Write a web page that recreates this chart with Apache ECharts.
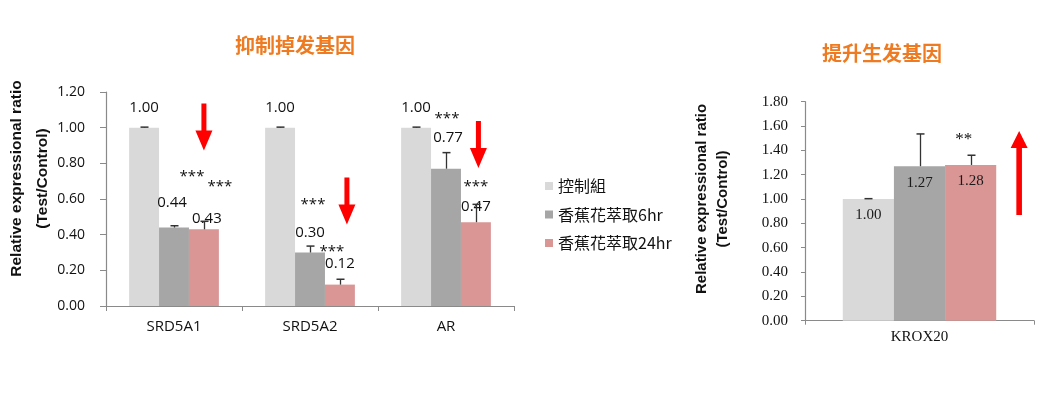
<!DOCTYPE html>
<html><head><meta charset="utf-8">
<script src="https://cdn.jsdelivr.net/npm/echarts@6.0.0/dist/echarts.min.js"></script>
<style>html,body{margin:0;padding:0;background:#fff}#c{width:1041px;height:401px}</style>
</head><body><div id="c"></div>
<script>
// ---------- data ----------
const seriesNames = ['控制組', '香蕉花萃取6hr', '香蕉花萃取24hr'];
const leftTitle = '抑制掉发基因';
const rightTitle = '提升生发基因';
const yAxisTitle = ['Relative expressional ratio', '(Test/Control)'];

const leftCategories = ['SRD5A1', 'SRD5A2', 'AR'];
const leftControl = [1.00, 1.00, 1.00];
const left6hr = [0.44, 0.30, 0.77];
const left24hr = [0.43, 0.12, 0.47];
const leftControlErr = [0.003, 0.003, 0.003];
const left6hrErr = [0.01, 0.036, 0.09];
const left24hrErr = [0.045, 0.03, 0.10];
const left6hrSig = ['***', '***', '***'];
const left24hrSig = ['***', '***', '***'];

const rightCategories = ['KROX20'];
const rightControl = [1.00];
const right6hr = [1.27];
const right24hr = [1.28];
const rightControlErr = [0.003];
const right6hrErr = [0.265];
const right24hrErr = [0.08];
const right24hrSig = ['**'];

// ---------- layout / style tweaks (not data) ----------
const colors = ['#D9D9D9', '#A6A6A6', '#D99694'];
const leftGap = 0.34, rightGap = 0.33;
const leftLabelLift = [[12, 12, 12], [17, 12, 23], [3.5, 13, 7.5]];
const leftLabelShiftX = [[0, 0, 0], [-2, 0, 2], [3, 0, 0]];
const left6hrSigAt = [[0.723, 18], [0.566, 3], [1.049, 1]];
const left24hrSigAt = [[0.667, 16], [0.303, -8], [0.667, 0]];
const leftArrowAt = [[1.004, 0], [0.589, 7], [0.906, 2.5]];
const rightArrowAt = [1.214, 48.5];
const rightSigAt = [1.49, -7];
const downArrow = 'path://M6,0L11,0L11,27L17,27L8.5,47L0,27L6,27Z';
const upArrow = 'path://M8.5,0L17,17L11.3,17L11.3,84L5.7,84L5.7,17L0,17Z';

const sansFont = 'Open Sans';
const serifFont = 'Liberation Serif';
const textColor = '#111';
const axisColor = '#8a8a8a';

function leftBar(idx, values) {
  return {
    name: seriesNames[idx], type: 'bar', xAxisIndex: 0, yAxisIndex: 0,
    barGap: '0%', barCategoryGap: (leftGap * 100) + '%',
    itemStyle: { color: colors[idx] },
    data: values.map((v, i) => ({
      value: v,
      label: { distance: leftLabelLift[idx][i], offset: [leftLabelShiftX[idx][i], 0] }
    })),
    label: {
      show: true, position: 'top', fontFamily: sansFont, fontSize: 15, color: textColor,
      formatter: p => p.value.toFixed(2)
    }
  };
}
function rightBar(idx, values) {
  return {
    name: seriesNames[idx], type: 'bar', xAxisIndex: 1, yAxisIndex: 1,
    barGap: '0%', barCategoryGap: (rightGap * 100) + '%',
    itemStyle: { color: colors[idx] },
    data: values,
    label: {
      show: true, position: 'insideTop', distance: 9, fontFamily: serifFont, fontSize: 15, color: '#1a1a1a',
      formatter: p => p.value.toFixed(2)
    }
  };
}
function sigPoints(sig, at, font, size) {
  return sig.map((s, i) => ({
    coord: [i, at[i][0]], symbol: 'circle', symbolSize: 0,
    label: { show: true, position: 'inside', formatter: s, offset: [at[i][1], 0],
      fontFamily: font, fontSize: size, color: textColor }
  }));
}
function errSeries(axisIdx, gapFrac, valueLists, errLists) {
  const data = [];
  valueLists.forEach((vals, s) => vals.forEach((v, i) => data.push([i, v, errLists[s][i], s])));
  return {
    type: 'custom', name: 'err' + axisIdx, xAxisIndex: axisIdx, yAxisIndex: axisIdx, z: 5, silent: true,
    data, encode: { x: 0, y: 1 },
    renderItem(params, api) {
      const band = api.size([1, 0])[0];
      const bw = band * (1 - gapFrac) / 3;
      const base = api.coord([api.value(0), api.value(1)]);
      const top = api.coord([api.value(0), api.value(1) + api.value(2)]);
      const x = Math.round(base[0] + (api.value(3) - 1) * bw) + 0.5;
      return { type: 'group', children: [
        { type: 'line', shape: { x1: x, y1: base[1], x2: x, y2: top[1] }, style: { stroke: '#333', lineWidth: 1.3 } },
        { type: 'line', shape: { x1: x - 4, y1: top[1], x2: x + 4, y2: top[1] }, style: { stroke: '#333', lineWidth: 1.5 } }
      ] };
    }
  };
}

const l24 = leftBar(2, left24hr);
l24.markPoint = {
  silent: true,
  data: sigPoints(left24hrSig, left24hrSigAt, sansFont, 15).concat(
    leftArrowAt.map((a, i) => ({
      coord: [i, a[0]], symbol: downArrow, symbolSize: [17, 47], symbolOffset: [a[1], 0],
      itemStyle: { color: '#FF0000' }, label: { show: false }
    })))
};
const l6 = leftBar(1, left6hr);
l6.markPoint = { silent: true, data: sigPoints(left6hrSig, left6hrSigAt, sansFont, 15) };

const r24 = rightBar(2, right24hr);
r24.markPoint = {
  silent: true,
  data: sigPoints(right24hrSig, [rightSigAt], serifFont, 17).concat([{
    coord: [0, rightArrowAt[0]], symbol: upArrow, symbolSize: [17, 84], symbolOffset: [rightArrowAt[1], 0],
    itemStyle: { color: '#FF0000' }, label: { show: false }
  }])
};

const titleStyle = { fontFamily: 'Noto Sans CJK SC', fontSize: 20, fontWeight: 'bold', fill: '#EE7B22',
  textAlign: 'center', textVerticalAlign: 'middle' };
function yName(x1, x2, yc, size) {
  return [yAxisTitle[0], yAxisTitle[1]].map((t, k) => ({
    type: 'text', x: k ? x2 : x1, y: yc, rotation: Math.PI / 2,
    style: { text: t, fontFamily: 'Liberation Sans', fontSize: size, fontWeight: 'bold', fill: '#111',
      textAlign: 'center', textVerticalAlign: 'middle' }
  }));
}

const chart = echarts.init(document.getElementById('c'), null, { renderer: 'canvas' });
chart.setOption({
  backgroundColor: '#fff',
  animation: false,
  graphic: [
    { type: 'text', x: 295, y: 45, style: Object.assign({ text: leftTitle }, titleStyle) },
    { type: 'text', x: 882, y: 53, style: Object.assign({ text: rightTitle }, titleStyle) }
  ].concat(yName(17, 43, 178.5, 15.5)).concat(yName(702, 723, 199, 15)),
  legend: {
    data: seriesNames, orient: 'vertical', left: 540, top: 173,
    itemWidth: 8, itemHeight: 8, itemGap: 12.5, icon: 'rect',
    textStyle: { fontFamily: 'Noto Sans CJK TC', fontSize: 16, color: '#111' }
  },
  grid: [
    { left: 106, right: 527, top: 92, bottom: 95 },
    { left: 805, right: 7, top: 101.7, bottom: 80.3 }
  ],
  xAxis: [
    { type: 'category', gridIndex: 0, data: leftCategories,
      axisLine: { lineStyle: { color: axisColor, width: 1.2 } },
      axisTick: { show: true, length: 5, lineStyle: { color: axisColor } },
      axisLabel: { margin: 13, fontFamily: sansFont, fontSize: 15, color: textColor } },
    { type: 'category', gridIndex: 1, data: rightCategories,
      axisLine: { lineStyle: { color: axisColor, width: 1.2 } },
      axisTick: { show: true, length: 4, lineStyle: { color: axisColor } },
      axisLabel: { margin: 9, fontFamily: serifFont, fontSize: 15, color: textColor } }
  ],
  yAxis: [
    { type: 'value', gridIndex: 0, min: 0, max: 1.2, interval: 0.2,
      axisLine: { show: true, lineStyle: { color: axisColor, width: 1.2 } },
      axisTick: { show: true, length: 6, lineStyle: { color: axisColor } },
      splitLine: { show: false },
      axisLabel: { margin: 21, fontFamily: sansFont, fontSize: 14, color: textColor, formatter: v => v.toFixed(2) } },
    { type: 'value', gridIndex: 1, min: 0, max: 1.8, interval: 0.2,
      axisLine: { show: true, lineStyle: { color: axisColor, width: 1.2 } },
      axisTick: { show: true, length: 4, lineStyle: { color: axisColor } },
      splitLine: { show: false },
      axisLabel: { margin: 17, fontFamily: serifFont, fontSize: 15, color: textColor, formatter: v => v.toFixed(2) } }
  ],
  series: [
    leftBar(0, leftControl), l6, l24,
    rightBar(0, rightControl), rightBar(1, right6hr), r24,
    errSeries(0, leftGap, [leftControl, left6hr, left24hr], [leftControlErr, left6hrErr, left24hrErr]),
    errSeries(1, rightGap, [rightControl, right6hr, right24hr], [rightControlErr, right6hrErr, right24hrErr])
  ]
});
</script>
</body></html>
